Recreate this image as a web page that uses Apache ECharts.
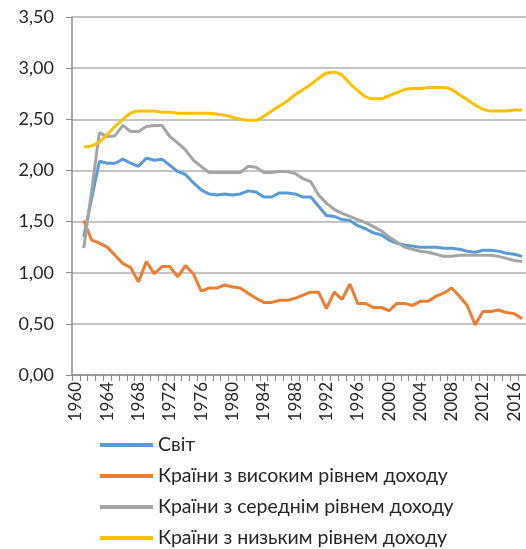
<!DOCTYPE html>
<html>
<head>
<meta charset="utf-8">
<script src="https://cdn.jsdelivr.net/npm/echarts@6/dist/echarts.min.js"></script>
<style>html,body{margin:0;padding:0;background:#fff;}#c{width:526px;height:549px;}</style>
</head>
<body>
<div id="c"></div>
<script>
const years = [];
for (let y = 1960; y <= 2017; y++) years.push(String(y));

const seriesNames = ['Світ', 'Країни з високим рівнем доходу', 'Країни з середнім рівнем доходу', 'Країни з низьким рівнем доходу'];

const world = [null,
 1.35,1.72,2.09,2.07,2.07,2.11,2.07,2.04,2.12,2.10,
 2.11,2.05,1.99,1.96,1.88,1.81,1.77,1.76,1.77,1.76,
 1.77,1.80,1.79,1.74,1.74,1.78,1.78,1.77,1.74,1.74,
 1.65,1.56,1.55,1.52,1.51,1.46,1.43,1.39,1.37,1.32,
 1.29,1.27,1.26,1.25,1.25,1.25,1.24,1.24,1.23,1.21,
 1.20,1.22,1.22,1.21,1.19,1.18,1.16];

const high = [null,
 1.51,1.32,1.29,1.25,1.17,1.09,1.05,0.91,1.11,0.99,
 1.06,1.06,0.96,1.07,0.99,0.82,0.85,0.85,0.88,0.86,
 0.85,0.80,0.75,0.71,0.71,0.73,0.73,0.75,0.78,0.81,
 0.81,0.65,0.81,0.74,0.89,0.70,0.70,0.66,0.66,0.63,
 0.70,0.70,0.68,0.72,0.72,0.77,0.80,0.85,0.77,0.68,
 0.49,0.62,0.62,0.635,0.61,0.60,0.55];

const middle = [null,
 1.24,1.80,2.37,2.33,2.34,2.44,2.38,2.38,2.43,2.44,
 2.44,2.33,2.27,2.20,2.10,2.04,1.98,1.98,1.98,1.98,
 1.98,2.04,2.03,1.98,1.98,1.99,1.99,1.97,1.92,1.89,
 1.76,1.68,1.62,1.58,1.55,1.52,1.49,1.45,1.41,1.35,
 1.30,1.25,1.23,1.21,1.20,1.18,1.16,1.16,1.17,1.17,
 1.17,1.17,1.17,1.16,1.14,1.12,1.11];

const low = [null,
 2.23,2.24,2.28,2.35,2.43,2.50,2.56,2.58,2.58,2.58,
 2.57,2.57,2.56,2.56,2.56,2.56,2.56,2.55,2.54,2.52,
 2.50,2.49,2.49,2.53,2.58,2.63,2.68,2.74,2.79,2.84,
 2.90,2.95,2.96,2.93,2.85,2.78,2.72,2.70,2.70,2.73,
 2.76,2.79,2.80,2.80,2.81,2.81,2.81,2.79,2.74,2.69,
 2.64,2.60,2.58,2.58,2.58,2.59,2.59];

const colors = ['#5B9BD5', '#ED7D31', '#A5A5A5', '#FFC000'];
const dataSets = [world, high, middle, low];
const FONT = 'Lato';

const chart = echarts.init(document.getElementById('c'), null, {renderer: 'canvas'});
chart.setOption({
  animation: false,
  color: colors,
  textStyle: {fontFamily: FONT, color: '#262626'},
  grid: {left: 72, top: 17, width: 458, height: 358, containLabel: false},
  legend: {
    orient: 'vertical', left: 100, top: 435, height: 114, padding: 0,
    icon: 'rect', itemWidth: 53, itemHeight: 4, itemGap: 11,
    textStyle: {fontFamily: FONT, fontSize: 19.5, color: '#262626', lineHeight: 20},
    data: seriesNames
  },
  xAxis: {
    type: 'category', data: years, boundaryGap: true,
    axisLine: {lineStyle: {color: '#8c8c8c', width: 1.5}},
    axisTick: {show: true, interval: 0, length: 6, lineStyle: {color: '#8c8c8c', width: 1}},
    axisLabel: {interval: 3, rotate: 90, fontSize: 17, color: '#262626', margin: 7, fontFamily: FONT},
    splitLine: {show: false}
  },
  yAxis: {
    type: 'value', min: 0, max: 3.5, interval: 0.5,
    axisLine: {show: true, lineStyle: {color: '#8c8c8c', width: 1.5}},
    axisTick: {show: true, length: 6, lineStyle: {color: '#8c8c8c', width: 1}},
    axisLabel: {fontSize: 18, color: '#262626', margin: 18, fontFamily: FONT,
      formatter: v => v.toFixed(2).replace('.', ',')},
    splitLine: {lineStyle: {color: '#b0b0b0', width: 1.5}}
  },
  series: dataSets.map((d, i) => ({
    name: seriesNames[i], type: 'line', data: d,
    symbol: 'none', smooth: i === 3 ? 0.3 : false,
    lineStyle: {width: 3, color: colors[i]},
    itemStyle: {color: colors[i]}
  }))
});
</script>
</body>
</html>
